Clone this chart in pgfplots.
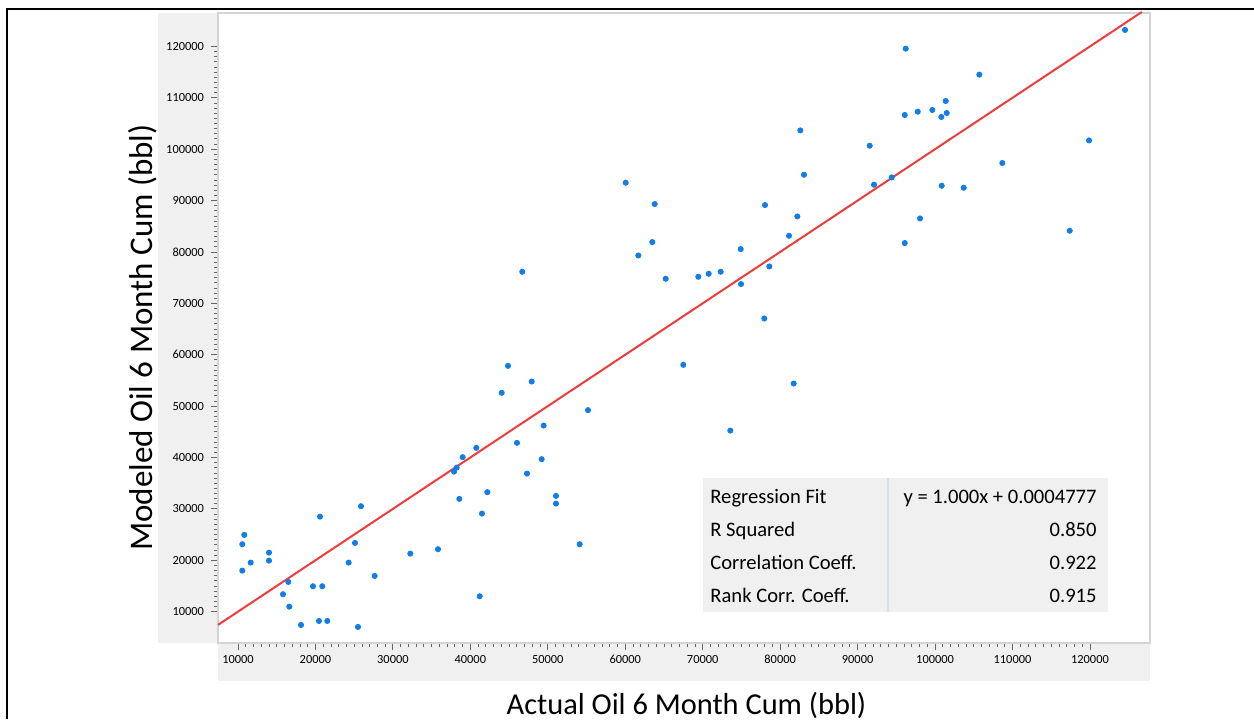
\documentclass[border=0pt]{standalone}
\usepackage{pgfplots}
\pgfplotsset{compat=1.18}
\usepackage{fontspec}
\setmainfont{Carlito}

\definecolor{ptblue}{RGB}{18,125,230}
\definecolor{fitred}{RGB}{238,60,60}
\definecolor{bandgray}{RGB}{240,240,240}
\definecolor{framegray}{RGB}{212,212,212}
\definecolor{divider}{RGB}{215,222,232}

\pgfplotstableread{
x y
10555 23123
10813 24934
10555 17983
11640 19540
14003 21488
14003 19930
15810 13388
16495 15783
16624 10973
18134 7410
19684 14945
20587 28497
20458 8189
20884 14945
21530 8189
24293 19540
25106 23376
25881 30522
25494 7021
27650 16951
32247 21293
35823 22150
37889 37259
38238 38037
38573 31943
39012 40062
40768 41873
41504 29081
41207 12998
42189 33248
44048 52582
46023 42847
47314 36869
47921 54782
49212 39673
49470 46215
51059 32527
51059 31028
54119 23123
55190 49213
44861 57839
46708 76141
60058 93470
63802 89322
63492 81924
61685 79315
65223 74778
69432 75167
70775 75752
72324 76141
74906 80561
74945 73746
78044 89128
82214 86908
81143 83150
78599 77173
77954 67048
67495 58034
73564 45241
81750 54393
96211 119560
105713 114498
101375 109377
99645 107625
97760 107294
96082 106651
100807 106262
101504 107040
82602 103653
91562 100674
119877 101706
83080 95027
92118 93080
94403 94502
108683 97305
100858 92885
103699 92496
124525 123201
98057 86519
96082 81729
117385 84124
}\wells

\begin{document}
\begin{tikzpicture}
\path[use as bounding box] (0,0) rectangle (627pt,359.5pt);
% shaded bands behind the tick labels
\fill[bandgray] (79pt,38pt) rectangle (109pt,353pt);
\fill[bandgray] (109pt,19pt) rectangle (575pt,38pt);
% outer frame
\draw[black, line width=1pt] (3.5pt,0) -- (3.5pt,355pt) -- (627pt,355pt);

\begin{axis}[
  at={(109pt,38pt)}, anchor=south west,
  width=466pt, height=315pt, scale only axis,
  xmin=7420, xmax=127750, ymin=3900, ymax=126500,
  xtick={10000,20000,...,120000},
  ytick={10000,20000,...,120000},
  xtick pos=lower, ytick pos=left,
  minor tick num=9,
  tick align=outside,
  major tick length=3.5pt, minor tick length=2pt,
  tick style={color=black!60, line width=0.4pt},
  axis line style={draw=framegray, line width=0.8pt},
  scaled ticks=false,
  /pgf/number format/fixed,
  /pgf/number format/precision=0,
  /pgf/number format/1000 sep={},
  /pgf/number format/assume math mode=true,
  ticklabel style={font=\fontsize{6.2}{7}\selectfont, text=black},
  xticklabel style={yshift=1pt},
  clip=false,
]
\addplot[fitred, line width=1pt] coordinates {(7420,7420) (126700,126700)};
\addplot[only marks, mark=*, mark size=1.3pt, color=ptblue] table[x=x, y=y] {\wells};
\end{axis}

% axis titles
\node[anchor=base, font=\fontsize{15.2}{18}\selectfont] at (343.25pt,2.5pt) {Actual Oil 6 Month Cum (bbl)};
\node[rotate=90, font=\fontsize{16.5}{19}\selectfont] at (71.5pt,190.75pt) {Modeled Oil 6 Month Cum (bbl)};

% regression statistics box
\fill[bandgray] (351.5pt,53.5pt) rectangle (554pt,120.5pt);
\draw[divider, line width=0.6pt] (444pt,53.5pt) -- (444pt,120.5pt);
\begin{scope}[every node/.style={font=\fontsize{10.3}{12}\selectfont, inner sep=0pt}]
\node[anchor=base west] at (355pt,107.75pt) {Regression Fit};
\node[anchor=base west] at (355pt,91.25pt) {R Squared};
\node[anchor=base west] at (355pt,74.75pt) {Correlation Coeff.};
\node[anchor=base west] at (355pt,58.25pt) {Rank Corr. Coeff.};
\node[anchor=base east] at (548.5pt,107.75pt) {y = 1.000x + 0.0004777};
\node[anchor=base east] at (548.5pt,91.25pt) {0.850};
\node[anchor=base east] at (548.5pt,74.75pt) {0.922};
\node[anchor=base east] at (548.5pt,58.25pt) {0.915};
\end{scope}
\end{tikzpicture}
\end{document}
